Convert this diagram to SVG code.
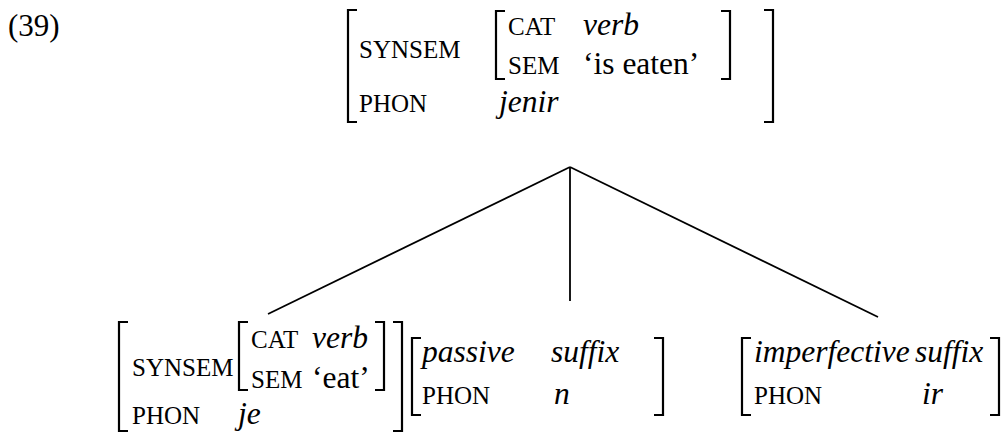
<svg xmlns="http://www.w3.org/2000/svg" width="1008" height="432" viewBox="0 0 1008 432">
<style>
text{font-family:'Liberation Serif','Times New Roman',serif;fill:#000}
.lab{font-size:25px}
.val{font-size:31.5px}
.it{font-style:italic}
.ph{font-size:31.5px;font-style:italic}
.num{font-size:31px}
.br{fill:none;stroke:#000;stroke-width:2.2}
.ln{stroke:#000;stroke-width:1.8;fill:none}
</style>
<rect width="1008" height="432" fill="#fff"/>
<text class="num" x="8" y="36">(39)</text>
<g id="connectors">
<line class="ln" x1="570" y1="167" x2="268" y2="314"/>
<line class="ln" x1="570" y1="167" x2="570" y2="301"/>
<line class="ln" x1="570" y1="167" x2="878" y2="317"/>
</g>
<g id="mother">
<path class="br" d="M357,10 H348 V122 H357"/>
<text class="lab" x="359" y="58">SYNSEM</text>
<path class="br" d="M505,11 H496 V79 H505"/>
<text class="lab" x="508" y="35">CAT</text>
<text class="val it" x="583" y="35">verb</text>
<text class="lab" x="508" y="74">SEM</text>
<text class="val" x="583" y="74">‘is eaten’</text>
<path class="br" d="M721,11 H730 V79 H721"/>
<text class="lab" x="359" y="112">PHON</text>
<text class="ph" x="499" y="112">jenir</text>
<path class="br" d="M764,10 H773 V122 H764"/>
</g>
<g id="stem-je">
<path class="br" d="M128,322 H119 V431 H128"/>
<text class="lab" x="132" y="376">SYNSEM</text>
<path class="br" d="M248,322 H239 V390 H248"/>
<text class="lab" x="251" y="348">CAT</text>
<text class="val it" x="312" y="348">verb</text>
<text class="lab" x="251" y="388">SEM</text>
<text class="val" x="312" y="388">‘eat’</text>
<path class="br" d="M375,322 H384 V390 H375"/>
<path class="br" d="M393,322 H402 V431 H393"/>
<text class="lab" x="132" y="424">PHON</text>
<text class="ph" x="238" y="424">je</text>
</g>
<g id="passive">
<path class="br" d="M421,338 H412 V415 H421"/>
<text class="val it" x="422" y="362">passive</text>
<text class="val it" x="551" y="362">suffix</text>
<text class="lab" x="422" y="404">PHON</text>
<text class="ph" x="554" y="404">n</text>
<path class="br" d="M654,338 H663 V415 H654"/>
</g>
<g id="imperfective">
<path class="br" d="M751,338 H742 V415 H751"/>
<text class="val it" x="754" y="362">imperfective</text>
<text class="val it" x="915" y="362">suffix</text>
<text class="lab" x="754" y="404">PHON</text>
<text class="ph" x="922" y="404">ir</text>
<path class="br" d="M990,338 H999 V415 H990"/>
</g>
</svg>
